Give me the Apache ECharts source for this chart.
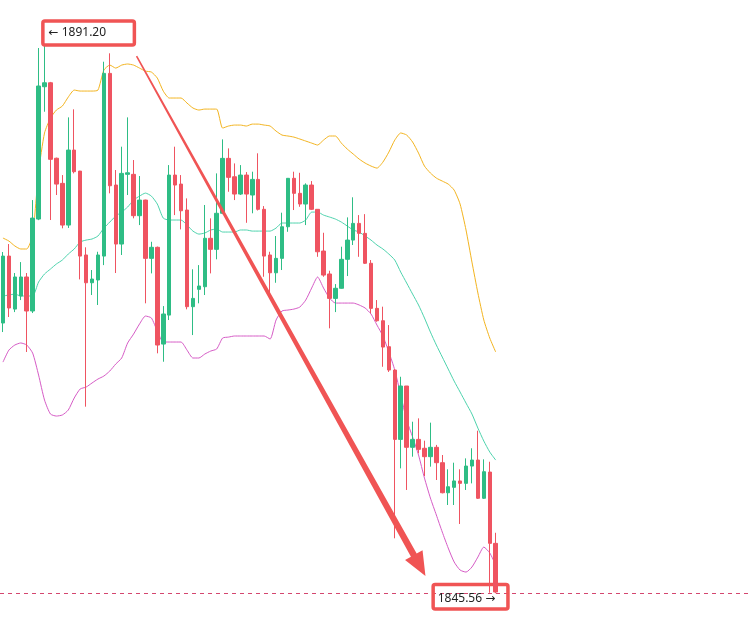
<!DOCTYPE html>
<html>
<head>
<meta charset="utf-8">
<script src="https://cdn.jsdelivr.net/npm/echarts@6/dist/echarts.min.js"></script>
<style>
html, body { margin: 0; padding: 0; background: #fff; }
#chart { width: 748px; height: 631px; }
</style>
</head>
<body>
<div id="chart"></div>
<script>
// candle values (open / close / low / high)
const opens = [1868.04, 1873.61, 1869.20, 1870.29, 1871.87, 1869.04, 1876.69, 1887.70, 1888.03, 1881.75,
  1879.66, 1876.19, 1882.43, 1880.68, 1873.70, 1871.39, 1871.62, 1873.61, 1888.81, 1879.52,
  1874.61, 1880.41, 1880.41, 1876.97, 1878.27, 1873.42, 1874.34, 1866.29, 1868.70, 1880.35,
  1879.60, 1877.44, 1869.40, 1870.84, 1871.06, 1875.09, 1874.17, 1877.17, 1881.74, 1880.21,
  1878.77, 1880.35, 1878.69, 1879.99, 1877.50, 1873.70, 1872.22, 1873.42, 1876.05, 1880.08,
  1878.83, 1877.94, 1879.52, 1877.50, 1874.03, 1872.12, 1870.09, 1870.93, 1873.34, 1874.94,
  1876.33, 1875.50, 1873.01, 1869.26, 1868.23, 1866.07, 1864.13, 1858.36, 1862.80, 1857.70,
  1858.36, 1857.62, 1856.92, 1857.70, 1856.42, 1853.92, 1854.37, 1854.90, 1854.70, 1856.14,
  1856.64, 1853.46, 1855.64, 1849.71];
const closes = [1873.61, 1869.29, 1871.87, 1871.87, 1869.04, 1876.77, 1887.76, 1888.03, 1881.66, 1879.60,
  1876.19, 1882.43, 1880.63, 1873.61, 1871.39, 1871.70, 1873.70, 1888.81, 1879.46, 1874.61,
  1880.49, 1880.54, 1876.97, 1878.27, 1873.42, 1874.34, 1866.21, 1868.79, 1880.35, 1879.52,
  1877.38, 1869.40, 1870.09, 1871.12, 1875.09, 1874.17, 1877.17, 1881.74, 1880.16, 1878.77,
  1880.35, 1878.77, 1879.99, 1877.50, 1873.61, 1872.22, 1873.42, 1876.05, 1880.08, 1878.83,
  1877.94, 1879.52, 1877.50, 1873.97, 1872.03, 1870.09, 1870.93, 1873.34, 1874.94, 1876.33,
  1875.50, 1873.01, 1869.26, 1868.23, 1866.04, 1864.13, 1858.36, 1862.80, 1857.70, 1858.36,
  1857.53, 1856.92, 1857.70, 1856.42, 1853.92, 1854.42, 1854.90, 1854.70, 1856.14, 1856.64,
  1853.46, 1855.67, 1849.71, 1845.66];
const lows = [1867.29, 1868.54, 1868.95, 1869.95, 1865.63, 1868.87, 1876.60, 1885.62, 1876.61, 1878.69,
  1875.92, 1875.95, 1880.49, 1871.67, 1861.08, 1870.37, 1869.54, 1872.86, 1878.83, 1872.20,
  1873.70, 1878.69, 1876.75, 1876.19, 1869.68, 1872.17, 1865.52, 1864.82, 1868.29, 1877.02,
  1875.83, 1869.18, 1867.04, 1869.68, 1870.37, 1872.17, 1873.34, 1877.10, 1878.96, 1878.27,
  1878.69, 1876.38, 1877.17, 1877.40, 1871.89, 1870.51, 1871.39, 1872.45, 1875.63, 1877.44,
  1877.71, 1876.19, 1877.44, 1873.55, 1871.89, 1867.60, 1868.95, 1870.90, 1871.95, 1874.53,
  1873.55, 1872.95, 1868.85, 1868.15, 1864.40, 1863.97, 1850.13, 1855.95, 1854.15, 1856.92,
  1857.20, 1855.31, 1856.09, 1854.98, 1853.87, 1852.90, 1852.90, 1851.32, 1854.15, 1854.70,
  1853.40, 1853.40, 1845.60, 1845.56];
const highs = [1873.95, 1874.61, 1872.20, 1873.11, 1872.20, 1878.27, 1890.92, 1891.20, 1888.10, 1881.80,
  1880.35, 1885.15, 1885.82, 1880.70, 1874.34, 1872.45, 1873.97, 1889.78, 1890.48, 1880.77,
  1882.71, 1885.15, 1881.60, 1880.27, 1878.30, 1874.80, 1874.40, 1869.45, 1881.18, 1882.71,
  1880.35, 1878.41, 1872.51, 1872.86, 1877.86, 1876.75, 1880.49, 1883.32, 1882.57, 1881.32,
  1881.18, 1880.60, 1880.63, 1882.16, 1877.77, 1873.97, 1875.28, 1877.22, 1880.10, 1880.63,
  1880.54, 1879.66, 1879.85, 1877.50, 1875.55, 1872.39, 1871.28, 1874.39, 1876.83, 1878.50,
  1877.02, 1877.10, 1873.28, 1869.95, 1869.40, 1867.87, 1864.20, 1863.57, 1862.80, 1859.83,
  1860.11, 1858.25, 1859.75, 1857.90, 1857.06, 1855.87, 1856.42, 1855.87, 1856.78, 1857.62,
  1859.08, 1856.70, 1856.50, 1850.59];

// bollinger bands
const upperBand = [1875.11, 1874.86, 1874.45, 1874.20, 1874.20, 1875.36, 1880.60, 1883.85, 1885.09, 1885.76,
  1886.09, 1886.84, 1887.42, 1887.34, 1887.34, 1887.34, 1887.42, 1889.09, 1889.50, 1889.25,
  1889.50, 1889.59, 1889.50, 1889.25, 1889.00, 1888.92, 1888.42, 1887.34, 1886.76, 1886.76,
  1886.76, 1886.34, 1885.93, 1885.76, 1885.84, 1885.84, 1885.84, 1884.26, 1884.43, 1884.51,
  1884.51, 1884.43, 1884.59, 1884.59, 1884.51, 1884.43, 1884.01, 1883.68, 1883.60, 1883.51,
  1883.35, 1883.18, 1883.01, 1882.85, 1883.26, 1883.60, 1883.60, 1883.01, 1882.51, 1882.10,
  1881.68, 1881.35, 1881.10, 1880.93, 1881.43, 1882.26, 1883.26, 1883.85, 1883.68, 1883.10,
  1882.18, 1881.10, 1880.52, 1880.10, 1879.85, 1879.60, 1879.10, 1877.94, 1875.78, 1873.11,
  1870.54, 1868.29, 1866.79, 1865.63];
const midBand = [1870.29, 1870.37, 1870.45, 1870.29, 1870.29, 1870.29, 1871.45, 1872.12, 1872.53, 1872.95,
  1873.28, 1873.78, 1874.20, 1874.78, 1874.94, 1875.03, 1875.28, 1875.94, 1876.44, 1876.94,
  1877.27, 1877.69, 1878.27, 1878.60, 1878.85, 1878.60, 1877.94, 1876.77, 1876.61, 1876.61,
  1876.61, 1876.19, 1875.69, 1875.44, 1875.53, 1875.78, 1875.86, 1875.61, 1875.61, 1875.61,
  1875.78, 1875.78, 1875.69, 1875.69, 1875.69, 1875.69, 1875.94, 1876.36, 1876.36, 1876.36,
  1876.36, 1876.61, 1877.27, 1877.27, 1877.02, 1876.86, 1876.69, 1876.44, 1876.11, 1875.78,
  1875.61, 1875.28, 1874.94, 1874.53, 1874.20, 1873.78, 1873.28, 1872.28, 1871.37, 1870.45,
  1869.54, 1868.46, 1867.29, 1866.21, 1865.21, 1864.21, 1863.21, 1862.30, 1861.38, 1860.47,
  1859.30, 1858.22, 1857.31, 1856.64];
const lowerBand = [1864.79, 1865.79, 1866.21, 1866.38, 1866.21, 1865.54, 1863.71, 1861.63, 1860.47, 1860.30,
  1860.39, 1860.80, 1861.80, 1862.55, 1862.71, 1863.05, 1863.38, 1863.63, 1864.05, 1864.63,
  1865.13, 1866.38, 1867.12, 1867.96, 1868.62, 1868.46, 1867.37, 1866.46, 1866.46, 1866.46,
  1866.46, 1865.79, 1865.13, 1865.13, 1865.46, 1865.71, 1865.88, 1866.79, 1866.87, 1866.96,
  1866.96, 1866.96, 1866.96, 1866.96, 1866.96, 1866.71, 1868.29, 1869.04, 1869.12, 1869.20,
  1869.37, 1869.95, 1870.95, 1871.87, 1870.95, 1870.12, 1869.70, 1869.70, 1869.70, 1869.70,
  1869.54, 1869.29, 1868.79, 1867.87, 1866.96, 1865.63, 1864.13, 1862.05, 1859.97, 1858.56,
  1857.06, 1855.14, 1853.48, 1852.07, 1850.65, 1849.32, 1848.16, 1847.49, 1847.32, 1847.74,
  1848.57, 1849.40, 1848.91, 1847.91];

const highLabel = '← 1891.20';
const lowLabel = '1845.56 →';
const highPrice = 1891.20;
const lowPrice = 1845.56;

// empty slots to the right of the last candle
const slotCount = 126;
const categories = [];
for (let i = 0; i < slotCount; i++) categories.push(String(i));

const candles = opens.map((o, i) => [o, closes[i], lows[i], highs[i]]);

const UP = '#2ebd85';
const DOWN = '#ef5461';
const MARK = '#f05454';
const PRICE_LINE = '#d4466f';

const chart = echarts.init(document.getElementById('chart'));

function band(name, data, color) {
  return {
    name: name,
    type: 'line',
    data: data,
    showSymbol: false,
    smooth: 0.2,
    silent: true,
    z: 3,
    lineStyle: { color: color, width: 1 }
  };
}

chart.setOption({
  animation: false,
  backgroundColor: '#fff',
  grid: { left: -1.3, top: 11, width: 750.3, height: 613 },
  xAxis: { type: 'category', data: categories, show: false, boundaryGap: true },
  yAxis: { type: 'value', min: 1843, max: 1894, show: false },
  series: [
    {
      name: 'k',
      type: 'candlestick',
      data: candles,
      barWidth: 4,
      z: 4,
      itemStyle: {
        color: UP,
        color0: DOWN,
        borderColor: UP,
        borderColor0: DOWN,
        borderWidth: 1
      }
    },
    band('upper', upperBand, '#f3b41f'),
    band('mid', midBand, '#4dd3ad'),
    band('lower', lowerBand, '#d65bc6')
  ]
});

// annotations anchored to the high / low candles
const hiIdx = highs.indexOf(Math.max.apply(null, highs));
const loIdx = lows.indexOf(Math.min.apply(null, lows));
const pHi = chart.convertToPixel({ xAxisIndex: 0, yAxisIndex: 0 }, [hiIdx, highPrice]);
const pLo = chart.convertToPixel({ xAxisIndex: 0, yAxisIndex: 0 }, [loIdx, lowPrice]);
const lineY = Math.round(pLo[1]) + 0.5;

// arrow from just right of the high box down to left of the low box
const a0 = chart.convertToPixel({ xAxisIndex: 0, yAxisIndex: 0 }, [22, 1890.25]);
const a1 = chart.convertToPixel({ xAxisIndex: 0, yAxisIndex: 0 }, [71, 1846.99]);
const S = [a0[0] + 3, a0[1]];
const T = [a1[0] + 1, a1[1]];
const dx = T[0] - S[0], dy = T[1] - S[1];
const len = Math.sqrt(dx * dx + dy * dy);
const ux = dx / len, uy = dy / len;
const nx = -uy, ny = ux;
const headLen = 24, headHalf = 10, w0 = 1.6, w1 = 6.5;
const B = [T[0] - ux * headLen, T[1] - uy * headLen];
const arrowPts = [
  [S[0] + nx * w0 / 2, S[1] + ny * w0 / 2],
  [B[0] + nx * w1 / 2, B[1] + ny * w1 / 2],
  [B[0] + nx * headHalf, B[1] + ny * headHalf],
  T,
  [B[0] - nx * headHalf, B[1] - ny * headHalf],
  [B[0] - nx * w1 / 2, B[1] - ny * w1 / 2],
  [S[0] - nx * w0 / 2, S[1] - ny * w0 / 2]
];

const bw = 3.5;
chart.setOption({
  graphic: [
    {
      // dashed last-price line at the low
      type: 'line', z: 0,
      shape: { x1: 0, y1: lineY, x2: chart.getWidth(), y2: lineY },
      style: { stroke: PRICE_LINE, lineWidth: 1, lineDash: [4, 4] }
    },
    {
      type: 'rect', z: 10,
      shape: { x: pHi[0] - 3.4 + bw / 2, y: pHi[1] - 25.5 + bw / 2, width: 95 - bw, height: 27.5 - bw, r: 2 },
      style: { fill: 'none', stroke: MARK, lineWidth: bw }
    },
    {
      type: 'text', z: 11,
      style: { text: highLabel, x: pHi[0] + 4, y: pHi[1] - 12.5, verticalAlign: 'middle',
        font: '12px "Noto Sans", "DejaVu Sans", sans-serif', fill: '#222' }
    },
    {
      type: 'rect', z: 1,
      shape: { x: pLo[0] - 64.3 + bw / 2, y: pLo[1] - 10.5 + bw / 2, width: 78.3 - bw, height: 28 - bw, r: 2 },
      style: { fill: 'none', stroke: MARK, lineWidth: bw }
    },
    {
      type: 'text', z: 11,
      style: { text: lowLabel, x: pLo[0] - 58, y: pLo[1] + 5, verticalAlign: 'middle',
        font: '12px "Noto Sans", "DejaVu Sans", sans-serif', fill: '#222' }
    },
    {
      type: 'polygon', z: 9,
      shape: { points: arrowPts },
      style: { fill: MARK }
    }
  ]
});
</script>
</body>
</html>
